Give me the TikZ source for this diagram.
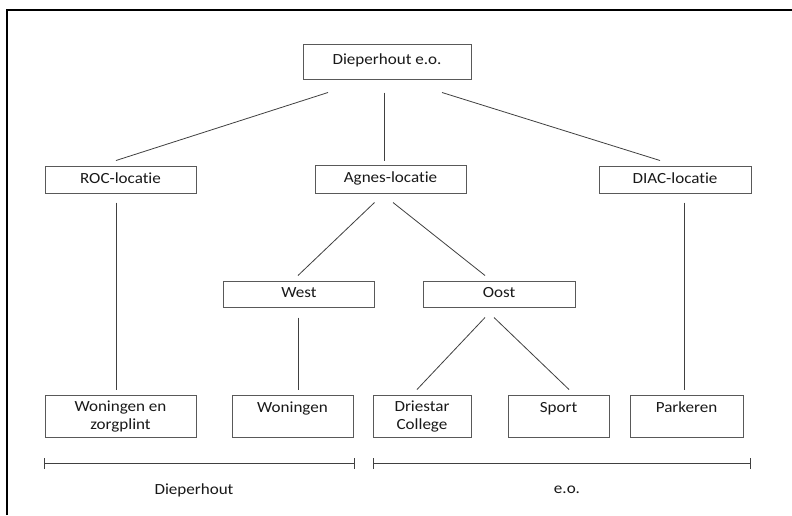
\documentclass[tikz,border=0pt]{standalone}
\usepackage{fontspec}
\setmainfont{Carlito}[Ligatures=NoCommon,RawFeature={-liga;-clig;-dlig},FakeStretch=1.1]
\usetikzlibrary{calc}
\begin{document}
\begin{tikzpicture}[x=1pt,y=-1pt,
  box/.style={draw=black!65,line width=1pt,rectangle,inner sep=0pt,align=center,
    font=\fontsize{15.5}{18}\selectfont,text=black!90},
  oneline/.style={text height=11pt,text depth=4pt},
  conn/.style={draw=black!75,line width=0.8pt},
  frameline/.style={draw=black,line width=2pt},
  lbl/.style={font=\fontsize{15.5}{18}\selectfont,text=black!90,inner sep=0pt}]
\useasboundingbox (0,0) rectangle (792,515);
\fill[white] (0,0) rectangle (792,515);
% frame
\coordinate (f1) at (7,515);
\coordinate (f2) at (7,10);
\coordinate (f3) at (792,10);
\draw[frameline] (f1) -- (f2) -- (f3);
% nodes
\node[box,text height=11pt,text depth=6pt,minimum width=168pt,minimum height=35pt] (top) at (387,61.5) {Dieperhout e.o.};
\node[box,oneline,minimum width=151pt,minimum height=27pt] (roc) at (120.5,179.5) {ROC-locatie};
\node[box,oneline,minimum width=151pt,minimum height=28pt] (agnes) at (390.5,179) {Agnes-locatie};
\node[box,oneline,minimum width=152pt,minimum height=27pt] (diac) at (675,179.5) {DIAC-locatie};
\node[box,oneline,minimum width=151pt,minimum height=26pt] (west) at (299,294) {West};
\node[box,oneline,minimum width=152pt,minimum height=26pt] (oost) at (499,294) {Oost};
\node[box,minimum width=151pt,minimum height=42pt] (wz) at (120.5,416) {Woningen en\\zorgplint};
\node[box,minimum width=121pt,minimum height=42pt] (won) at (292.5,416) {Woningen\\\mbox{}};
\node[box,minimum width=98pt,minimum height=42pt] (dri) at (422,416) {Driestar\\College};
\node[box,minimum width=101pt,minimum height=42pt] (sport) at (558.5,416) {Sport\\\mbox{}};
\node[box,minimum width=113pt,minimum height=42pt] (park) at (686.5,416) {Parkeren\\\mbox{}};
% connectors
\draw[conn] ([shift={(-59,13)}]top.south) -- ([shift={(-4.5,-5)}]roc.north);
\draw[conn] ([shift={(-3,13)}]top.south) -- ([shift={(-6.5,-4)}]agnes.north);
\draw[conn] ([shift={(55,13)}]top.south) -- ([shift={(-15,-5)}]diac.north);
\draw[conn] ([shift={(-4.5,9)}]roc.south) -- ([shift={(-4.5,-5)}]wz.north);
\draw[conn] ([shift={(-16,9)}]agnes.south) -- ([shift={(-1,-5)}]west.north);
\draw[conn] ([shift={(2.5,9)}]agnes.south) -- ([shift={(-14,-5)}]oost.north);
\draw[conn] ([shift={(-1,10)}]west.south) -- ([shift={(5.5,-5)}]won.north);
\draw[conn] ([shift={(-14,10)}]oost.south) -- ([shift={(-5,-5)}]dri.north);
\draw[conn] ([shift={(-5,10)}]oost.south) -- ([shift={(10.5,-5)}]sport.north);
\draw[conn] ([shift={(9,9)}]diac.south) -- ([shift={(-2.5,-5)}]park.north);
% brackets
\coordinate (b1l) at (44,463);
\coordinate (b1r) at (354,463);
\coordinate (b2l) at (373,463);
\coordinate (b2r) at (750,463);
\draw[conn] (b1l) -- (b1r);
\draw[conn] ([yshift=-5.5]b1l) -- ([yshift=5.5]b1l);
\draw[conn] ([yshift=-5.5]b1r) -- ([yshift=5.5]b1r);
\draw[conn] (b2l) -- (b2r);
\draw[conn] ([yshift=-5.5]b2l) -- ([yshift=5.5]b2l);
\draw[conn] ([yshift=-5.5]b2r) -- ([yshift=5.5]b2r);
\node[lbl] (ldie) at (194,490) {Dieperhout};
\node[lbl] (leo) at (567,490) {e.o.};
\end{tikzpicture}
\end{document}
